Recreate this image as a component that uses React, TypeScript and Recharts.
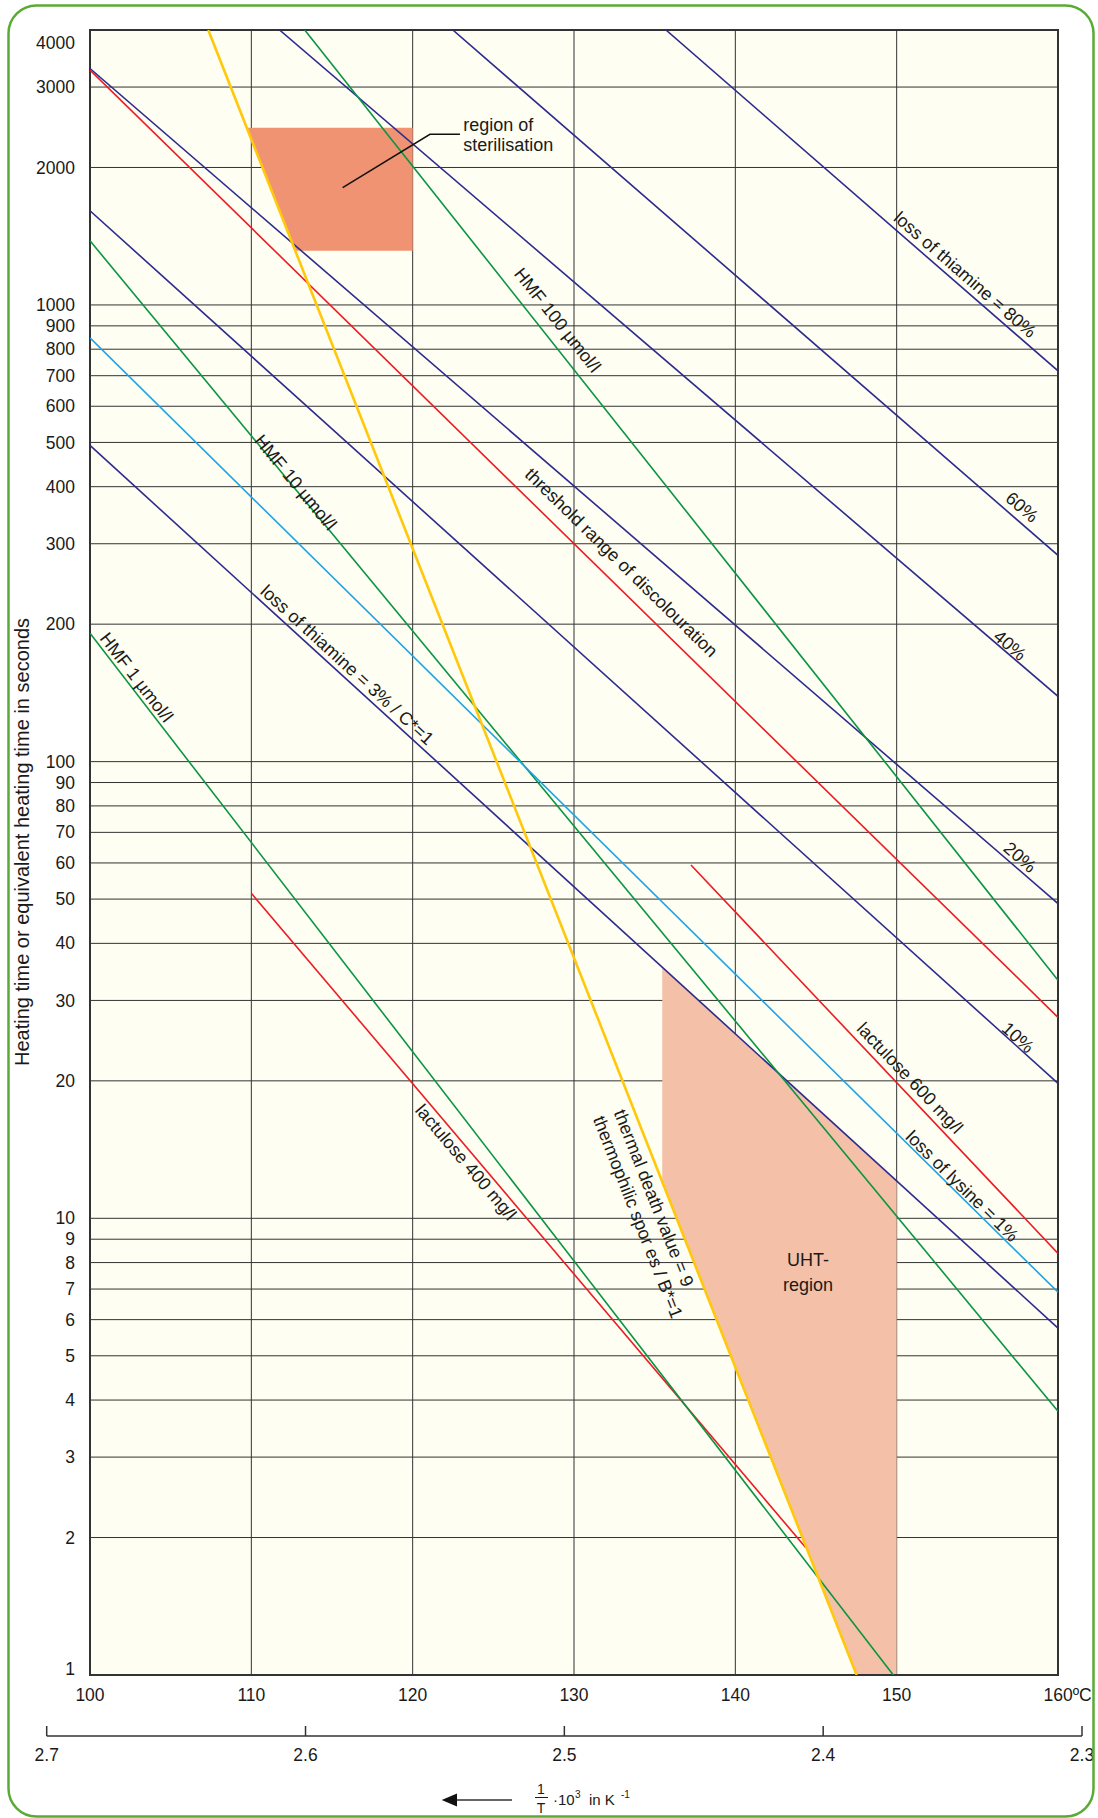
import React from "react";
import {
  ComposedChart, LineChart, Line, Area, XAxis, YAxis, CartesianGrid, ReferenceArea, ReferenceDot,
} from "recharts";

const FONT = "'Liberation Sans', Arial, Helvetica, sans-serif";

// axes
const xTicks = [100, 110, 120, 130, 140, 150, 160];
const yTicks = [1, 2, 3, 4, 5, 6, 7, 8, 9, 10, 20, 30, 40, 50, 60, 70, 80, 90, 100, 200, 300, 400, 500, 600, 700, 800, 900, 1000, 2000, 3000, 4000];
const invTicks = [2.7, 2.6, 2.5, 2.4, 2.3];

// straight lines, end points: T in degC, t in seconds
const thiamine80 = [{ T: 135.7, t: 4000 }, { T: 160, t: 717 }];
const thiamine60 = [{ T: 122.49, t: 4000 }, { T: 160, t: 283 }];
const thiamine40 = [{ T: 111.75, t: 4000 }, { T: 160, t: 139 }];
const thiamine20 = [{ T: 100, t: 3294 }, { T: 160, t: 48.9 }];
const thiamine10 = [{ T: 100, t: 1608 }, { T: 160, t: 19.75 }];
const thiamine3 = [{ T: 100, t: 492.6 }, { T: 160, t: 5.75 }];
const discolouration = [{ T: 100, t: 3269 }, { T: 160, t: 27.55 }];
const lactulose600 = [{ T: 137.25, t: 59.4 }, { T: 160, t: 8.38 }];
const lactulose400 = [{ T: 110, t: 51.5 }, { T: 144.37, t: 1.9 }];
const hmf100 = [{ T: 113.31, t: 4000 }, { T: 160, t: 33.2 }];
const hmf10 = [{ T: 100, t: 1382 }, { T: 160, t: 3.78 }];
const hmf1 = [{ T: 100, t: 191 }, { T: 149.79, t: 1 }];
const lysine1 = [{ T: 100, t: 847 }, { T: 160, t: 6.89 }];
const thermalDeath = [{ T: 107.33, t: 4000 }, { T: 147.52, t: 1 }];

// shaded regions [low, high]
const sterilisation = [
  { T: 109.71, range: [2444, 2444] },
  { T: 112.72, range: [1315, 2444] },
  { T: 120, range: [1315, 2444] },
];
const uht = [
  { T: 135.47, range: [12.0, 35.5] },
  { T: 147.52, range: [1, 14.5] },
  { T: 150, range: [1, 12.07] },
];
const leader = [{ T: 115.66, t: 1806 }, { T: 121.07, t: 2364 }, { T: 122.93, t: 2364 }];

const NAVY = "#2d2a8e";
const RED = "#ec1c24";
const GREEN = "#0a9444";
const CYAN = "#1fa3e6";
const YELLOW = "#ffc80a";

const series = [
  { id: "t80", data: thiamine80, color: NAVY, w: 1.6 },
  { id: "t60", data: thiamine60, color: NAVY, w: 1.6 },
  { id: "t40", data: thiamine40, color: NAVY, w: 1.6 },
  { id: "t20", data: thiamine20, color: NAVY, w: 1.6 },
  { id: "t10", data: thiamine10, color: NAVY, w: 1.6 },
  { id: "t3", data: thiamine3, color: NAVY, w: 1.6 },
  { id: "disc", data: discolouration, color: RED, w: 1.6 },
  { id: "l600", data: lactulose600, color: RED, w: 1.6 },
  { id: "l400", data: lactulose400, color: RED, w: 1.6 },
  { id: "h100", data: hmf100, color: GREEN, w: 1.6 },
  { id: "h10", data: hmf10, color: GREEN, w: 1.6 },
  { id: "h1", data: hmf1, color: GREEN, w: 1.6 },
  { id: "lys", data: lysine1, color: CYAN, w: 1.6 },
  { id: "death", data: thermalDeath, color: YELLOW, w: 2.6 },
];

// text along the lines: anchor in data units, angle in degrees
const labels = [
  { text: "loss of thiamine = 80%", T: 154.24, t: 1166, angle: 41, anchor: "middle" },
  { text: "60%", T: 157.77, t: 361, angle: 41, anchor: "middle" },
  { text: "40%", T: 157.03, t: 180, angle: 40.5, anchor: "middle" },
  { text: "20%", T: 157.65, t: 61.8, angle: 41, anchor: "middle" },
  { text: "10%", T: 157.52, t: 24.9, angle: 42, anchor: "middle" },
  { text: "loss of lysine = 1%", T: 154.07, t: 11.77, angle: 44.5, anchor: "middle" },
  { text: "lactulose 600 mg/l", T: 150.83, t: 20.3, angle: 46.6, anchor: "middle" },
  { text: "threshold range of discolouration", T: 132.94, t: 273, angle: 44.4, anchor: "middle" },
  { text: "HMF 100 µmol/l", T: 128.99, t: 927, angle: 51.6, anchor: "middle" },
  { text: "HMF 10 µmol/l", T: 112.75, t: 409, angle: 50.4, anchor: "middle" },
  { text: "HMF 1 µmol/l", T: 102.89, t: 153, angle: 52.4, anchor: "middle" },
  { text: "loss of thiamine = 3% / C*=1", T: 115.95, t: 163, angle: 42.4, anchor: "middle" },
  { text: "lactulose 400 mg/l", T: 123.31, t: 13.28, angle: 49.7, anchor: "middle" },
  { text: "thermal death value = 9", T: 134.96, t: 11.08, angle: 68.5, anchor: "middle" },
  { text: "thermophilic spor es / B*=1", T: 133.97, t: 10.07, angle: 68.5, anchor: "middle" },
  { text: "region of", T: 123.14, t: 2478, angle: 0, anchor: "start" },
  { text: "sterilisation", T: 123.14, t: 2240, angle: 0, anchor: "start" },
  { text: "UHT-", T: 144.5, t: 8.1, angle: 0, anchor: "middle" },
  { text: "region", T: 144.5, t: 7.14, angle: 0, anchor: "middle" },
];

const YTick = (props: any) => {
  const { x, y, payload } = props;
  const v = payload.value;
  const shift = v === 4000 ? 13 : v === 1 ? -6 : 0;
  return (
    <text x={x} y={y + shift} dy="0.35em" textAnchor="end" fontSize={17.5} fill="#1a1a1a" fontFamily={FONT}>
      {v}
    </text>
  );
};

const XTick = (props: any) => {
  const { x, y, payload } = props;
  const v = payload.value;
  if (v === 160) {
    return (
      <text x={x - 14.5} y={y} dy="0.35em" textAnchor="start" fontSize={17.5} fill="#1a1a1a" fontFamily={FONT}>
        160ºC
      </text>
    );
  }
  return (
    <text x={x} y={y} dy="0.35em" textAnchor="middle" fontSize={17.5} fill="#1a1a1a" fontFamily={FONT}>
      {v}
    </text>
  );
};

const InvTick = (props: any) => {
  const { x, y, payload } = props;
  return (
    <g>
      <line x1={x} x2={x} y1={y - 10} y2={y} stroke="#333" strokeWidth={1.5} />
      <text x={x} y={y + 19} dy="0.35em" textAnchor="middle" fontSize={17.5} fill="#1a1a1a" fontFamily={FONT}>
        {payload.value.toFixed(1)}
      </text>
    </g>
  );
};

export default function App() {
  return (
    <div style={{ position: "absolute", left: 0, top: 0, width: 1098, height: 1818, background: "#fff" }}>
      <div style={{ position: "absolute", left: 0, top: 0 }}>
        <ComposedChart width={1098} height={1818} margin={{ top: 30, right: 40, bottom: 103, left: 0 }}>
          <CartesianGrid stroke="#333" strokeWidth={1} fill="#fefef2" fillOpacity={1} />
          <XAxis
            type="number" dataKey="T" domain={[100, 160]} ticks={xTicks} interval={0} allowDataOverflow
            height={40} tickSize={0} tickMargin={20} tickLine={false} axisLine={false} tick={<XTick />}
          />
          <YAxis
            type="number" scale="log" domain={[1, 4000]} ticks={yTicks} interval={0} allowDataOverflow
            width={90} tickSize={0} tickMargin={15} tickLine={false} axisLine={false} tick={<YTick />}
          />
          <Area data={sterilisation} dataKey="range" type="linear" stroke="none" fill="#f09372" fillOpacity={1}
            dot={false} activeDot={false} isAnimationActive={false} />
          <Area data={uht} dataKey="range" type="linear" stroke="none" fill="#f4c0a7" fillOpacity={1}
            dot={false} activeDot={false} isAnimationActive={false} />
          {series.map((s) => (
            <Line key={s.id} data={s.data} dataKey="t" type="linear" stroke={s.color} strokeWidth={s.w}
              dot={false} activeDot={false} isAnimationActive={false} />
          ))}
          <Line data={leader} dataKey="t" type="linear" stroke="#111" strokeWidth={1.5}
            dot={false} activeDot={false} isAnimationActive={false} />
          <ReferenceArea x1={100} x2={160} y1={1} y2={4000} fill="none" stroke="#333" strokeWidth={2} ifOverflow="visible" />
          {labels.map((l) => (
            <ReferenceDot
              key={l.text} x={l.T} y={l.t} r={1} fill="none" stroke="none" ifOverflow="visible"
              shape={(p: any) => (
                <text
                  x={p.cx} y={p.cy} dy="0.35em" textAnchor={l.anchor}
                  transform={l.angle ? `rotate(${l.angle} ${p.cx} ${p.cy})` : undefined}
                  fontSize={18} fill="#1a1a1a" fontFamily={FONT}
                >
                  {l.text}
                </text>
              )}
            />
          ))}
        </ComposedChart>
      </div>

      <div style={{ position: "absolute", left: 0, top: 1700 }}>
        <LineChart width={1098} height={80} data={invTicks.map((v) => ({ inv: v }))}
          margin={{ top: 0, right: 16, bottom: 0, left: 46.7 }}>
          <XAxis
            type="number" dataKey="inv" domain={[2.3, 2.7]} reversed ticks={invTicks} interval={0} allowDataOverflow
            height={44} tickSize={0} tickMargin={0} tickLine={false}
            axisLine={{ stroke: "#333", strokeWidth: 1.5 }} tick={<InvTick />}
          />
          <YAxis hide />
        </LineChart>
      </div>

      <svg width={1098} height={1818} style={{ position: "absolute", left: 0, top: 0, pointerEvents: "none" }}>
        <rect x={8.5} y={5.5} width={1085} height={1811} rx={28} fill="none" stroke="#5aab36" strokeWidth={2.5} />
        <text x={22} y={842} transform="rotate(-90 22 842)" textAnchor="middle" dy="0.35em"
          fontSize={20} fill="#1a1a1a" fontFamily={FONT}>
          Heating time or equivalent heating time in seconds
        </text>
        <line x1={455} x2={512} y1={1800} y2={1800} stroke="#333" strokeWidth={1.5} />
        <polygon points="441.7,1800 457,1793.5 457,1806.5" fill="#111" />
        <text x={541} y={1789} dy="0.35em" textAnchor="middle" fontSize={14} fill="#1a1a1a" fontFamily={FONT}>1</text>
        <line x1={535} x2={548} y1={1797.5} y2={1797.5} stroke="#1a1a1a" strokeWidth={1} />
        <text x={541} y={1808} dy="0.35em" textAnchor="middle" fontSize={14} fill="#1a1a1a" fontFamily={FONT}>T</text>
        <text y={1805} fontSize={15} fill="#1a1a1a" fontFamily={FONT}>
          <tspan x={553}>·10</tspan>
          <tspan x={575} dy={-7} fontSize={10}>3</tspan>
          <tspan x={589} dy={7}>in K</tspan>
          <tspan x={621} dy={-7} fontSize={10}>-1</tspan>
        </text>
      </svg>
    </div>
  );
}
